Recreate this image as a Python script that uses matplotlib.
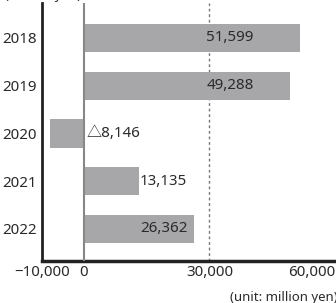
import matplotlib
matplotlib.use("Agg")
import matplotlib.pyplot as plt

years = ["2018", "2019", "2020", "2021", "2022"]
values = [51599, 49288, -8146, 13135, 26362]
value_labels = ["51,599", "49,288", "\u25b38,146", "13,135", "26,362"]
x_ticks = [-10000, 0, 30000, 60000]
x_tick_labels = ["\u221210,000", "0", "30,000", "60,000"]

plt.rcParams["font.family"] = ["Noto Sans", "Noto Sans CJK JP", "DejaVu Sans"]
text_color = "#2a2a2a"
bar_color = "#a7a7a9"
fs = 10.9

fig = plt.figure(figsize=(3.36, 3.03), dpi=100)
ax = fig.add_axes([42 / 336, 42 / 303, 293 / 336, 258 / 303])

pos = list(range(len(years)))
ax.barh(pos, values, height=0.59, color=bar_color, zorder=2)

ax.set_xlim(-10000, 60000)
ax.set_ylim(4.67, -0.73)

ax.axvline(0, color="#888888", lw=1.5, zorder=3)
ax.axvline(30000, color="#777777", lw=1.0, ls=(0, (2, 2)), zorder=1)

for i, (v, lab) in enumerate(zip(values, value_labels)):
    if v > 45000:
        ax.text(29300, i, lab, ha="left", va="center", fontsize=fs, color=text_color, zorder=4)
    elif v > 20000:
        ax.text(v - 1500, i, lab, ha="right", va="center", fontsize=fs, color=text_color, zorder=4)
    elif v > 0:
        ax.text(v + 300, i, lab, ha="left", va="center", fontsize=fs, color=text_color, zorder=4)
    else:
        ax.text(700, i, lab, ha="left", va="center", fontsize=fs, color=text_color, zorder=4)

ax.set_yticks(pos)
ax.set_yticklabels(years, fontsize=fs, color=text_color)
ax.set_xticks(x_ticks)
ax.set_xticklabels(x_tick_labels, fontsize=fs, color=text_color)
ax.get_xticklabels()[-1].set_ha("right")
ax.tick_params(axis="both", length=0)
ax.tick_params(axis="y", pad=4)
ax.tick_params(axis="x", pad=3)

for side in ["top", "right"]:
    ax.spines[side].set_visible(False)
ax.spines["left"].set_color("#222222")
ax.spines["left"].set_linewidth(2)
ax.spines["bottom"].set_color("#222222")
ax.spines["bottom"].set_linewidth(2.5)

# unit labels
fig.text(5 / 336, 1.0 + 11 / 303, "(million yen)", fontsize=9.5, color=text_color, ha="left", va="top")
fig.text(1.0 + 2 / 336, 6 / 303, "(unit: million yen)", fontsize=9.5, color=text_color, ha="right", va="center")

fig.savefig("out.png", dpi=100)
